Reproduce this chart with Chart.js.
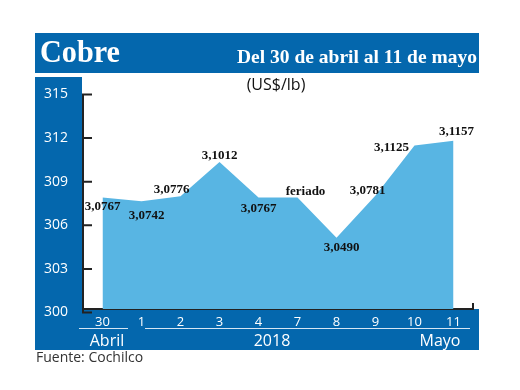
<!DOCTYPE html>
<html>
<head>
<meta charset="utf-8">
<script src="https://cdn.jsdelivr.net/npm/chart.js@4.4.1/dist/chart.umd.min.js"></script>
<style>
  html, body { margin: 0; padding: 0; background: #fff; }
  #wrap { width: 520px; height: 390px; position: relative; }
</style>
</head>
<body>
<div id="wrap"><canvas id="myChart" width="520" height="390"></canvas></div>
<script>
// precio del cobre, centavos US$/lb
const dias = ['30', '1', '2', '3', '4', '7', '8', '9', '10', '11'];
const precios = [307.67, 307.42, 307.76, 310.12, 307.67, 307.67, 304.90, 307.81, 311.25, 311.57];
const etiquetas = ['3,0767', '3,0742', '3,0776', '3,1012', '3,0767', 'feriado', '3,0490', '3,0781', '3,1125', '3,1157'];
const yTicks = [300, 303, 306, 309, 312, 315];

const AZUL = '#0467ad';
const CELESTE = '#58b5e3';

// where each value label sits relative to its point
const offsets = [[0, 9], [5, 14], [-9, -7], [0, -6], [0, 11], [8, -6], [5, 10], [-8, -5], [-23, 2], [3, -9]];

function fitText(ctx, text, x, y, width) {
    const w = ctx.measureText(text).width;
    ctx.save();
    ctx.translate(x, y);
    ctx.scale(width / w, 1);
    ctx.fillText(text, 0, 0);
    ctx.restore();
}

const marco = {
    id: 'marco',
    beforeDraw(chart) {
        const ctx = chart.ctx;
        ctx.save();
        ctx.fillStyle = '#fff';
        ctx.fillRect(0, 0, chart.width, chart.height);
        ctx.fillStyle = AZUL;
        ctx.fillRect(35, 33, 444, 40);
        ctx.fillRect(35, 77, 47, 273);
        ctx.fillRect(35, 309, 444, 41);

        ctx.fillStyle = '#fff';
        ctx.textAlign = 'left';
        ctx.textBaseline = 'alphabetic';
        ctx.font = 'bold 32px "Liberation Serif"';
        fitText(ctx, 'Cobre', 40, 62, 80);
        ctx.font = 'bold 19px "Liberation Serif"';
        fitText(ctx, 'Del 30 de abril al 11 de mayo', 237, 63, 240);

        ctx.font = '16px "Open Sans"';
        ctx.textAlign = 'center';
        ctx.fillText('Abril', 107, 346);
        ctx.fillText('2018', 272, 346);
        ctx.fillText('Mayo', 440, 346);

        ctx.strokeStyle = '#d6e6f4';
        ctx.lineWidth = 1;
        ctx.beginPath();
        ctx.moveTo(79, 328.5); ctx.lineTo(128, 328.5);
        ctx.moveTo(145, 328.5); ctx.lineTo(470, 328.5);
        ctx.stroke();

        ctx.fillStyle = '#111';
        ctx.textBaseline = 'middle';
        ctx.font = '16px "Open Sans"';
        ctx.fillText('(US$/lb)', 276, 85);

        ctx.fillStyle = '#333';
        ctx.textAlign = 'left';
        ctx.font = '14px "Open Sans"';
        ctx.fillText('Fuente: Cochilco', 36, 358);
        ctx.restore();
    },
    afterDatasetsDraw(chart) {
        const ctx = chart.ctx;
        const pts = chart.getDatasetMeta(0).data;
        ctx.save();
        ctx.fillStyle = '#111';
        ctx.font = 'bold 13px "Liberation Serif"';
        ctx.textAlign = 'center';
        ctx.textBaseline = 'middle';
        pts.forEach((p, i) => {
            ctx.fillText(etiquetas[i], p.x + offsets[i][0], p.y + offsets[i][1]);
        });
        ctx.restore();
    },
    afterDraw(chart) {
        const ctx = chart.ctx;
        const y = chart.scales.y;
        const area = chart.chartArea;
        const x0 = area.left;
        ctx.save();
        ctx.strokeStyle = '#222';
        ctx.lineWidth = 2;
        ctx.beginPath();
        ctx.moveTo(x0, y.getPixelForValue(315) + 3.5);
        ctx.lineTo(x0, y.getPixelForValue(300) + 3.5);
        yTicks.forEach(t => {
            const py = y.getPixelForValue(t) + 3.5;
            ctx.moveTo(x0 - 1, py);
            ctx.lineTo(x0 + 9, py);
        });
        ctx.moveTo(area.right, area.bottom - 6);
        ctx.lineTo(area.right, area.bottom);
        ctx.stroke();
        ctx.restore();
    }
};

const ctx = document.getElementById('myChart').getContext('2d');
const myChart = new Chart(ctx, {
    type: 'line',
    data: {
        labels: dias,
        datasets: [{
            label: 'Cobre',
            data: precios,
            fill: 'start',
            backgroundColor: CELESTE,
            borderWidth: 0,
            pointRadius: 0,
            tension: 0
        }]
    },
    options: {
        responsive: false,
        animation: false,
        devicePixelRatio: 1,
        layout: {
            padding: { top: 91, right: 47, bottom: 0, left: 0 }
        },
        plugins: {
            legend: { display: false },
            tooltip: { enabled: false }
        },
        scales: {
            x: {
                offset: true,
                grid: { display: false },
                border: { display: true, color: '#222', width: 2 },
                ticks: {
                    color: '#fff',
                    font: { family: 'Open Sans', size: 13 },
                    padding: -3,
                    maxRotation: 0,
                    autoSkip: false
                },
                afterFit(scale) { scale.height = 81; }
            },
            y: {
                min: 300,
                max: 315,
                grid: { display: false },
                border: { display: false },
                afterBuildTicks(scale) {
                    scale.ticks = yTicks.map(v => ({ value: v }));
                },
                ticks: {
                    color: '#fff',
                    font: { family: 'Open Sans', size: 14 },
                    padding: 7,
                    labelOffset: 3.5
                },
                afterFit(scale) { scale.width = 83; }
            }
        }
    },
    plugins: [marco]
});
</script>
</body>
</html>
